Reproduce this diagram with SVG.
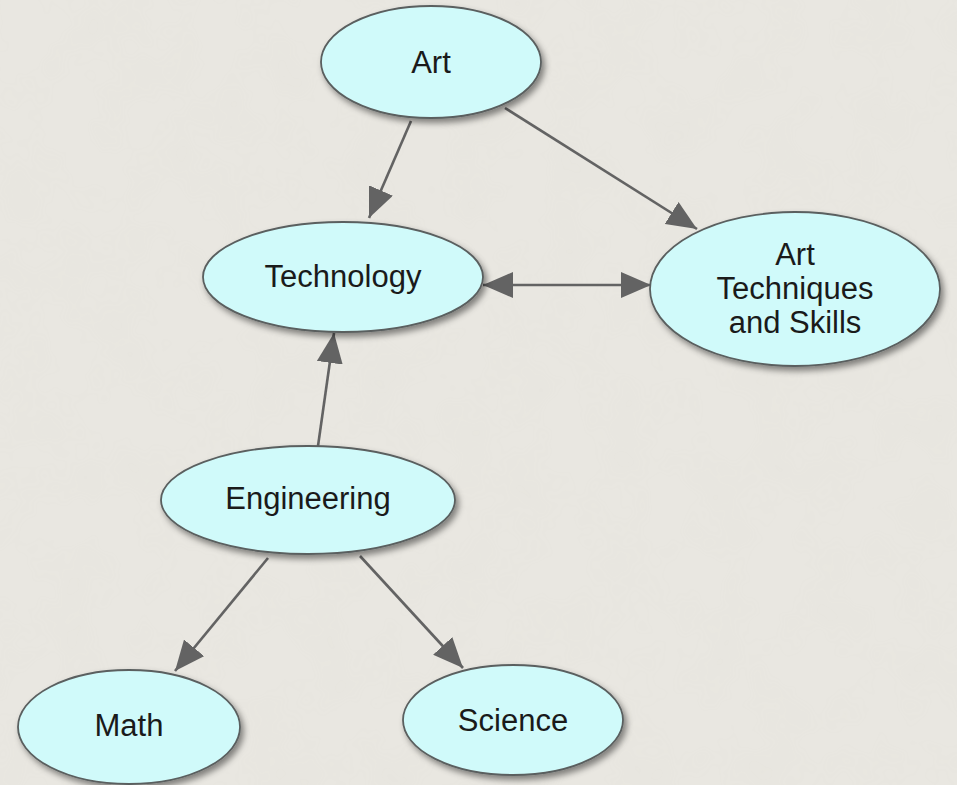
<svg xmlns="http://www.w3.org/2000/svg" width="957" height="785" viewBox="0 0 957 785">
<defs>
<style>
.node ellipse{fill:#d0fafa;stroke:#5a5f5f;stroke-width:1.8;filter:url(#shadow)}
.node text{font-family:"Liberation Sans",Arial,Helvetica,sans-serif;font-size:31px;fill:#1a1a1a;text-anchor:middle}
.edge{fill:none;stroke:#636363;stroke-width:2.6}
</style>
<filter id="shadow" x="-20%" y="-20%" width="140%" height="150%">
<feDropShadow dx="3" dy="4" stdDeviation="3" flood-color="#000" flood-opacity="0.45"/>
</filter>
<filter id="noise" x="0" y="0" width="100%" height="100%">
<feTurbulence type="fractalNoise" baseFrequency="0.02" numOctaves="3" seed="4"/>
<feColorMatrix type="matrix" values="0 0 0 0 0.5  0 0 0 0 0.5  0 0 0 0 0.45  0 0 0 0.5 -0.2"/>
</filter>
<marker id="arrow" markerUnits="userSpaceOnUse" markerWidth="30" markerHeight="26" refX="30" refY="13" orient="auto-start-reverse">
<path d="M0,0 L30,13 L0,26 Z" fill="#636363"/>
</marker>
</defs>
<rect width="957" height="785" fill="#e9e7e1"/>
<rect width="957" height="785" filter="url(#noise)" opacity="0.12"/>
<g id="connectors">
<path class="edge" d="M411,121 L369,218" marker-end="url(#arrow)"/>
<path class="edge" d="M505,108 L697,229" marker-end="url(#arrow)"/>
<path class="edge" d="M483,285 L651,285" marker-start="url(#arrow)" marker-end="url(#arrow)"/>
<path class="edge" d="M318,446 L334,333" marker-end="url(#arrow)"/>
<path class="edge" d="M268,558 L175,671" marker-end="url(#arrow)"/>
<path class="edge" d="M360,556 L463,668" marker-end="url(#arrow)"/>
</g>
<g id="node-art" class="node">
<ellipse cx="431" cy="62" rx="110" ry="56"/>
<text x="431" y="73">Art</text>
</g>
<g id="node-technology" class="node">
<ellipse cx="343" cy="277" rx="140" ry="55"/>
<text x="343" y="287">Technology</text>
</g>
<g id="node-art-techniques" class="node">
<ellipse cx="795" cy="289" rx="145" ry="77"/>
<text x="795" y="265">Art</text>
<text x="795" y="299">Techniques</text>
<text x="795" y="333">and Skills</text>
</g>
<g id="node-engineering" class="node">
<ellipse cx="308" cy="500" rx="147" ry="54"/>
<text x="308" y="509">Engineering</text>
</g>
<g id="node-math" class="node">
<ellipse cx="129" cy="727" rx="111" ry="57"/>
<text x="129" y="736">Math</text>
</g>
<g id="node-science" class="node">
<ellipse cx="513" cy="720" rx="110" ry="55"/>
<text x="513" y="731">Science</text>
</g>
</svg>
